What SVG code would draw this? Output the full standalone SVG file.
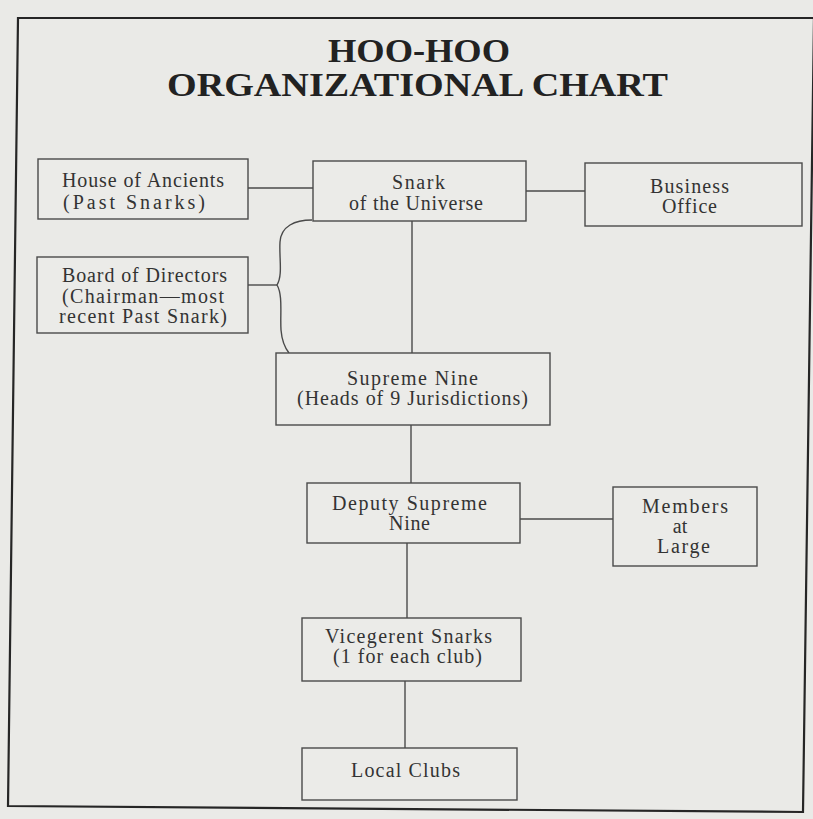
<svg xmlns="http://www.w3.org/2000/svg" width="813" height="819" viewBox="0 0 813 819">
<style>
.bg{fill:#eaeae7}
.frame{fill:none;stroke:#262626;stroke-width:2.2}
.box{fill:#ebebe8;stroke:#4a4a4a;stroke-width:1.4}
.line{fill:none;stroke:#4a4a4a;stroke-width:1.4}
.title{font-family:"Liberation Serif",serif;font-weight:bold;font-size:33px;fill:#222;text-anchor:middle}
.t{font-family:"Liberation Serif",serif;font-size:20px;fill:#333;text-anchor:middle}
</style>
<rect class="bg" x="0" y="0" width="813" height="819"/>
<path class="frame" d="M813,18 L18,18 L8,806 L803,812 L814,18"/>
<g id="title">
<text class="title" x="419" y="62" textLength="182" lengthAdjust="spacingAndGlyphs">HOO-HOO</text>
<text class="title" x="417.5" y="96" textLength="501" lengthAdjust="spacingAndGlyphs">ORGANIZATIONAL CHART</text>
</g>
<g id="connectors">
<line class="line" x1="248" y1="188" x2="313" y2="188"/>
<line class="line" x1="526" y1="191" x2="585" y2="191"/>
<line class="line" x1="248" y1="285" x2="277" y2="285"/>
<path class="line" d="M312,220 C295,220 281,226 280,242 C279,258 283,275 277,285 C283,295 280,315 281,330 C282,342 285,348 289,353"/>
<line class="line" x1="412" y1="221" x2="412" y2="353"/>
<line class="line" x1="411" y1="425" x2="411" y2="483"/>
<line class="line" x1="520" y1="519" x2="613" y2="519"/>
<line class="line" x1="407" y1="543" x2="407" y2="618"/>
<line class="line" x1="405" y1="681" x2="405" y2="748"/>
</g>
<g id="house-of-ancients">
<rect class="box" x="38" y="159" width="210" height="60"/>
<text class="t" x="143" y="187" textLength="162" lengthAdjust="spacing">House of Ancients</text>
<text class="t" x="134" y="209" textLength="142" lengthAdjust="spacing">(Past Snarks)</text>
</g>
<g id="snark">
<rect class="box" x="313" y="161" width="213" height="60"/>
<text class="t" x="418.5" y="189" textLength="53" lengthAdjust="spacing">Snark</text>
<text class="t" x="416" y="210" textLength="134" lengthAdjust="spacing">of the Universe</text>
</g>
<g id="business-office">
<rect class="box" x="585" y="163" width="217" height="63"/>
<text class="t" x="689.5" y="193" textLength="79" lengthAdjust="spacing">Business</text>
<text class="t" x="689.5" y="213" textLength="55" lengthAdjust="spacing">Office</text>
</g>
<g id="board-of-directors">
<rect class="box" x="37" y="257" width="211" height="76"/>
<text class="t" x="144.5" y="282" textLength="165" lengthAdjust="spacing">Board of Directors</text>
<text class="t" x="143" y="303" textLength="162" lengthAdjust="spacing">(Chairman—most</text>
<text class="t" x="143" y="323" textLength="168" lengthAdjust="spacing">recent Past Snark)</text>
</g>
<g id="supreme-nine">
<rect class="box" x="276" y="353" width="274" height="72"/>
<text class="t" x="412.5" y="385" textLength="131" lengthAdjust="spacing">Supreme Nine</text>
<text class="t" x="412.5" y="405" textLength="231" lengthAdjust="spacing">(Heads of 9 Jurisdictions)</text>
</g>
<g id="deputy-supreme-nine">
<rect class="box" x="307" y="483" width="213" height="60"/>
<text class="t" x="409.5" y="510" textLength="155" lengthAdjust="spacing">Deputy Supreme</text>
<text class="t" x="409.5" y="530" textLength="41" lengthAdjust="spacing">Nine</text>
</g>
<g id="members-at-large">
<rect class="box" x="613" y="487" width="144" height="79"/>
<text class="t" x="685" y="513" textLength="86" lengthAdjust="spacing">Members</text>
<text class="t" x="680" y="533">at</text>
<text class="t" x="683.5" y="553" textLength="53" lengthAdjust="spacing">Large</text>
</g>
<g id="vicegerent-snarks">
<rect class="box" x="302" y="618" width="219" height="63"/>
<text class="t" x="408.5" y="643" textLength="167" lengthAdjust="spacing">Vicegerent Snarks</text>
<text class="t" x="407.5" y="663" textLength="149" lengthAdjust="spacing">(1 for each club)</text>
</g>
<g id="local-clubs">
<rect class="box" x="302" y="748" width="215" height="52"/>
<text class="t" x="405.5" y="777" textLength="109" lengthAdjust="spacing">Local Clubs</text>
</g>
</svg>
